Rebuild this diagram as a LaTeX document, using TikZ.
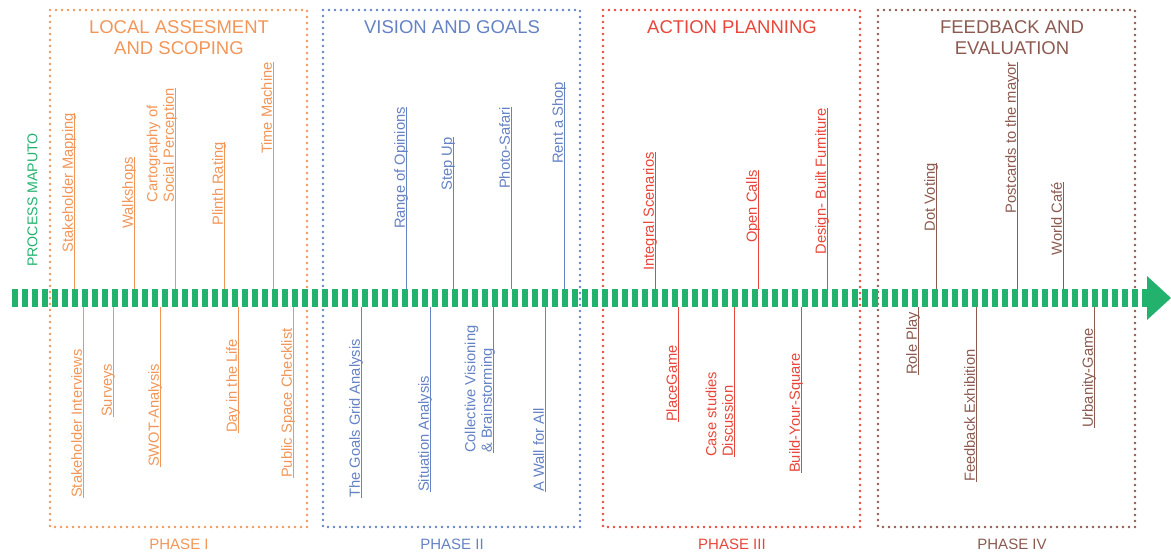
\documentclass[tikz,border=0pt]{standalone}
\usepackage{fontspec}
\setmainfont{Liberation Sans}
\definecolor{procgreen}{RGB}{34,178,110}
\definecolor{phaseone}{RGB}{241,150,88}
\definecolor{phasetwo}{RGB}{100,130,196}
\definecolor{phasethree}{RGB}{232,70,58}
\definecolor{phasefour}{RGB}{140,90,80}

\begin{document}
\begin{tikzpicture}[x=1pt,y=-1pt,
  phasebox/.style={line width=2.8pt, dash pattern=on 0pt off 6pt, line cap=round},
  phasetitle/.style={font=\fontsize{18.5}{21}\selectfont, align=center, anchor=north, inner sep=0pt},
  phaselabel/.style={font=\fontsize{15}{18}\selectfont, anchor=north, inner sep=0pt},
  item/.style={rotate=90, font=\fontsize{14.7}{16.5}\selectfont, inner xsep=0pt, inner ysep=1pt, text depth=0pt, align=left},
  itemup/.style={item, anchor=south east},
  itemdown/.style={item, anchor=south west},
  stem/.style={line width=0.9pt},
]
\useasboundingbox (0,0) rectangle (1171,555);

% timeline edges
\coordinate (tltop) at (0,289);
\coordinate (tlbot) at (0,307);
\coordinate (tstart) at (12,298);
\coordinate (tend) at (1147,298);

% phase frames
\draw[phasebox, phaseone]   (50,10)  rectangle (307,527);
\draw[phasebox, phasetwo]   (323,10) rectangle (580,527);
\draw[phasebox, phasethree] (603,10) rectangle (860,527);
\draw[phasebox, phasefour]  (878,10) rectangle (1135,527);

% phase titles
\node[phasetitle, text=phaseone]   (t1) at (179,20.5) {LOCAL ASSESMENT\\AND SCOPING};
\node[phasetitle, text=phasetwo]   (t2) at (452,20.5) {VISION AND GOALS};
\node[phasetitle, text=phasethree] (t3) at (732,20.5) {ACTION PLANNING};
\node[phasetitle, text=phasefour]  (t4) at (1012,20.5) {FEEDBACK AND\\EVALUATION};

% phase numbers
\node[phaselabel, text=phaseone]   (p1) at (179,539) {PHASE I};
\node[phaselabel, text=phasetwo]   (p2) at (452,539) {PHASE II};
\node[phaselabel, text=phasethree] (p3) at (732,539) {PHASE III};
\node[phaselabel, text=phasefour]  (p4) at (1012,539) {PHASE IV};

% process label
\node[rotate=90, inner sep=0pt, text=procgreen, font=\fontsize{14.2}{16}\selectfont] (proc) at (32.5,200) {PROCESS MAPUTO};

% phase I tools
\begin{scope}[text=phaseone]
\node[itemup] (sm) at (74,113) {Stakeholder Mapping};
\node[itemup] (wk) at (134,157) {Walkshops};
\node[itemup] (cs) at (175,88) {Cartography of\\Social Perception};
\node[itemup] (pr) at (224,142) {Plinth Rating};
\node[itemup] (tm) at (273,62) {Time Machine};
\node[itemdown] (si) at (83,498) {Stakeholder Interviews};
\node[itemdown] (sv) at (113,417) {Surveys};
\node[itemdown] (sw) at (160,467) {SWOT-Analysis};
\node[itemdown] (dl) at (238,433) {Day in the Life};
\node[itemdown] (ps) at (293,478) {Public Space Checklist};
\end{scope}

% phase II tools
\begin{scope}[text=phasetwo]
\node[itemup] (ro) at (406,107) {Range of Opinions};
\node[itemup] (su) at (453,137) {Step Up};
\node[itemup] (pf) at (511,107) {Photo-Safari};
\node[itemup] (rs) at (564,82) {Rent a Shop};
\node[itemdown] (gg) at (361,498) {The Goals Grid Analysis};
\node[itemdown] (sa) at (430,492) {Situation Analysis};
\node[itemdown] (cv) at (493,453) {Collective Visioning\\\& Brainstorming};
\node[itemdown] (wa) at (545,492) {A Wall for All};
\end{scope}

% phase III tools
\begin{scope}[text=phasethree]
\node[itemup] (is) at (655,152) {Integral Scenarios};
\node[itemup] (oc) at (758,170) {Open Calls};
\node[itemup] (db) at (827,108) {Design- Built Furniture};
\node[itemdown] (pg) at (678,422) {PlaceGame};
\node[itemdown] (cd) at (734,457) {Case studies\\Discussion};
\node[itemdown] (by) at (801,473) {Build-Your-Square};
\end{scope}

% phase IV tools
\begin{scope}[text=phasefour]
\node[itemup] (dv) at (936,163) {Dot Voting};
\node[itemup] (pm) at (1017,62) {Postcards to the mayor};
\node[itemup] (wc) at (1063,182) {World Café};
\node[itemdown] (rp) at (918,375) {Role Play};
\node[itemdown] (fe) at (976,482) {Feedback Exhibition};
\node[itemdown] (ug) at (1094,428) {Urbanity-Game};
\end{scope}

% stems joining each tool to the timeline
\foreach \n/\c in {sm/phaseone, wk/phaseone, cs/phaseone, pr/phaseone, tm/phaseone,
                   ro/phasetwo, su/phasetwo, pf/phasetwo, rs/phasetwo,
                   is/phasethree, oc/phasethree, db/phasethree,
                   dv/phasefour, pm/phasefour, wc/phasefour}
  \draw[stem, \c] (\n.south east) -- (\n.south east |- tltop);
\foreach \n/\c in {si/phaseone, sv/phaseone, sw/phaseone, dl/phaseone, ps/phaseone,
                   gg/phasetwo, sa/phasetwo, cv/phasetwo, wa/phasetwo,
                   pg/phasethree, cd/phasethree, by/phasethree,
                   rp/phasefour, fe/phasefour, ug/phasefour}
  \draw[stem, \c] (\n.south west) -- (\n.south west |- tlbot);

% timeline
\draw[procgreen, line width=18pt, dash pattern=on 6pt off 4pt] (tstart) -- (tend);
\fill[procgreen] (tend) ++(0,-22) -- ++(24,22) -- ++(-24,22) -- cycle;
\end{tikzpicture}
\end{document}
